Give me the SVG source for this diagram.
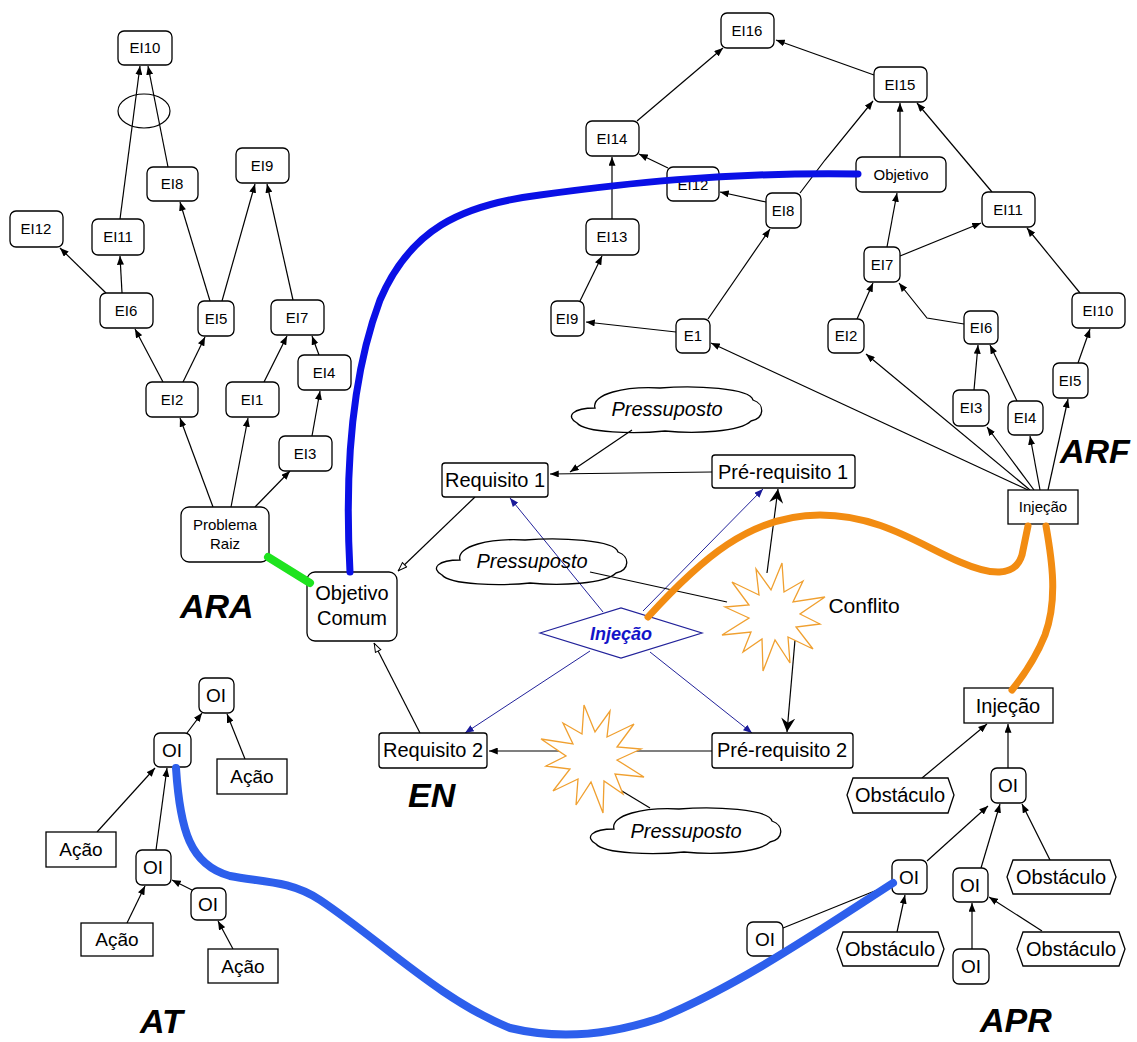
<svg xmlns="http://www.w3.org/2000/svg" xmlns:xlink="http://www.w3.org/1999/xlink" width="1137" height="1042" viewBox="0 0 1137 1042">
<style>
.box{fill:#fff;stroke:#000;stroke-width:1.3}
.hex{fill:#fff;stroke:#000;stroke-width:1.3}
.t{font-family:"Liberation Sans",Arial,sans-serif;text-anchor:middle;fill:#000}
.s15{font-size:15px}
.s19{font-size:19px}
.s20{font-size:20px}
.it{font-style:italic}
.lbl{font-family:"Liberation Sans",Arial,sans-serif;font-weight:bold;font-style:italic;font-size:34px;fill:#000}
.c{fill:none;stroke:#000;stroke-width:1.2}
.cb{fill:none;stroke:#22229a;stroke-width:1}
.cloud{fill:none;stroke:#000;stroke-width:1.3}
.star{fill:#fff;stroke:#f0a030;stroke-width:1.3}
.thick{fill:none;stroke-linecap:round;stroke-linejoin:round}
</style>
<defs>
<marker id="ah" viewBox="0 0 10 8" refX="10" refY="4" markerWidth="9" markerHeight="7" orient="auto" markerUnits="userSpaceOnUse"><path d="M0,0L10,4L0,8z" fill="#000"/></marker>
<marker id="ahb" viewBox="0 0 10 8" refX="10" refY="4" markerWidth="9" markerHeight="7" orient="auto" markerUnits="userSpaceOnUse"><path d="M0,0L10,4L0,8z" fill="#1a1a9a"/></marker>
<marker id="aho" viewBox="0 0 10 8" refX="10" refY="4" markerWidth="10" markerHeight="8" orient="auto" markerUnits="userSpaceOnUse"><path d="M1,1L9.5,4L1,7z" fill="#fff" stroke="#000" stroke-width="1"/></marker>
<marker id="ahbig" viewBox="0 0 12 12" refX="12" refY="6" markerWidth="14" markerHeight="14" orient="auto" markerUnits="userSpaceOnUse"><path d="M0,0L12,6L0,12L4,6z" fill="#000"/></marker>
<path id="cloudshape" d="M-70,-2 C-74,-16 -40,-24 -5,-22 C30,-25 85,-22 88,-10 C100,-6 100,8 86,11 C75,22 30,24 0,21 C-30,24 -80,23 -88,13 C-100,6 -92,-2 -70,-2 Z"/>
<polygon id="starshape" points="9,-53 11,-24 30,-35 20,-14 52,-19 27,-2 47,8 23,11 40,33 15,21 17,47 2,24 -10,55 -11,23 -30,36 -22,16 -51,19 -24,2 -48,-9 -24,-11 -41,-34 -14,-21 -17,-47 -2,-26"/>
</defs>
<rect width="1137" height="1042" fill="#fff"/>

<g id="connectors">
<!-- ARA -->
<path class="c" d="M213,507 L180,418" marker-end="url(#ah)"/>
<path class="c" d="M231,507 L248,418" marker-end="url(#ah)"/>
<path class="c" d="M255,507 L290,471" marker-end="url(#ah)"/>
<path class="c" d="M312,436 L320,391" marker-end="url(#ah)"/>
<path class="c" d="M319,355 L312,336" marker-end="url(#ah)"/>
<path class="c" d="M264,382 L287,336" marker-end="url(#ah)"/>
<path class="c" d="M163,382 L135,329" marker-end="url(#ah)"/>
<path class="c" d="M183,382 L205,337" marker-end="url(#ah)"/>
<path class="c" d="M106,293 L60,248" marker-end="url(#ah)"/>
<path class="c" d="M122,293 L120,256" marker-end="url(#ah)"/>
<path class="c" d="M120,219 L140,66" marker-end="url(#ah)"/>
<path class="c" d="M168,167 L148,66" marker-end="url(#ah)"/>
<path class="c" d="M210,301 L180,202" marker-end="url(#ah)"/>
<path class="c" d="M222,301 L255,184" marker-end="url(#ah)"/>
<path class="c" d="M293,300 L267,184" marker-end="url(#ah)"/>
<!-- ARF -->
<path class="c" d="M1028,490 L711,343" marker-end="url(#ah)"/>
<path class="c" d="M1030,490 L866,354" marker-end="url(#ah)"/>
<path class="c" d="M1034,490 L987,427" marker-end="url(#ah)"/>
<path class="c" d="M1040,490 L1030,436" marker-end="url(#ah)"/>
<path class="c" d="M1048,490 L1068,399" marker-end="url(#ah)"/>
<path class="c" d="M974,390 L978,345" marker-end="url(#ah)"/>
<path class="c" d="M1017,401 L990,345" marker-end="url(#ah)"/>
<path class="c" d="M964,324 L927,318 L899,283" marker-end="url(#ah)"/>
<path class="c" d="M857,319 L873,283" marker-end="url(#ah)"/>
<path class="c" d="M887,247 L897,193" marker-end="url(#ah)"/>
<path class="c" d="M900,256 L981,223" marker-end="url(#ah)"/>
<path class="c" d="M1078,363 L1090,329" marker-end="url(#ah)"/>
<path class="c" d="M1080,293 L1027,228" marker-end="url(#ah)"/>
<path class="c" d="M992,192 L917,103" marker-end="url(#ah)"/>
<path class="c" d="M900,157 L900,103" marker-end="url(#ah)"/>
<path class="c" d="M800,193 L825,160 L873,101" marker-end="url(#ah)"/>
<path class="c" d="M874,75 L776,40" marker-end="url(#ah)"/>
<path class="c" d="M637,121 L723,48" marker-end="url(#ah)"/>
<path class="c" d="M612,219 L612,157" marker-end="url(#ah)"/>
<path class="c" d="M580,301 L602,256" marker-end="url(#ah)"/>
<path class="c" d="M676,332 L586,322" marker-end="url(#ah)"/>
<path class="c" d="M708,319 L770,229" marker-end="url(#ah)"/>
<path class="c" d="M766,202 L720,192" marker-end="url(#ah)"/>
<path class="c" d="M668,168 L639,154" marker-end="url(#ah)"/>
<!-- EN -->
<path class="c" d="M632,430 L570,472" marker-end="url(#ah)"/>
<path class="c" d="M712,472 L550,474" marker-end="url(#ah)"/>
<path class="c" d="M475,497 L398,571" marker-end="url(#aho)"/>
<path class="c" d="M420,733 L374,643" marker-end="url(#aho)"/>
<path class="cb" d="M603,612 L510,498" marker-end="url(#ahb)"/>
<path class="cb" d="M643,611 L763,489" marker-end="url(#ahb)"/>
<path class="cb" d="M590,651 L465,733" marker-end="url(#ahb)"/>
<path class="cb" d="M650,652 L752,733" marker-end="url(#ahb)"/>
<path class="c" d="M590,572 L727,602"/>
<path class="c" d="M767,573 L778,489" marker-end="url(#ahbig)"/>
<path class="c" d="M795,640 L787,732" marker-end="url(#ahbig)"/>
<path class="c" d="M712,751 L489,751" marker-end="url(#ah)"/>
<path class="c" d="M650,808 L612,785"/>
<!-- AT -->
<path class="c" d="M187,733 L202,713" marker-end="url(#ah)"/>
<path class="c" d="M245,759 L227,714" marker-end="url(#ah)"/>
<path class="c" d="M97,832 L155,768" marker-end="url(#ah)"/>
<path class="c" d="M156,850 L167,768" marker-end="url(#ah)"/>
<path class="c" d="M127,923 L145,886" marker-end="url(#ah)"/>
<path class="c" d="M192,890 L172,880" marker-end="url(#ah)"/>
<path class="c" d="M233,949 L218,921" marker-end="url(#ah)"/>
<!-- APR -->
<path class="c" d="M922,778 L987,724" marker-end="url(#ah)"/>
<path class="c" d="M1008,768 L1008,724" marker-end="url(#ah)"/>
<path class="c" d="M927,861 L988,806" marker-end="url(#ah)"/>
<path class="c" d="M981,868 L1000,804" marker-end="url(#ah)"/>
<path class="c" d="M1050,860 L1022,804" marker-end="url(#ah)"/>
<path class="c" d="M783,928 L892,884"/>
<path class="c" d="M897,932 L905,895" marker-end="url(#ah)"/>
<path class="c" d="M972,949 L972,903" marker-end="url(#ah)"/>
<path class="c" d="M1042,931 L989,897" marker-end="url(#ah)"/>
</g>

<!-- ARA nodes -->
<g id="ara-ei10"><rect class="box" x="118" y="31" width="54" height="34" rx="6"/><text class="t s15" x="145" y="53">EI10</text></g>
<g id="ara-and"><ellipse cx="144" cy="111" rx="26" ry="17" fill="none" stroke="#000" stroke-width="1.2"/></g>
<g id="ara-ei8"><rect class="box" x="147" y="167" width="51" height="34" rx="6"/><text class="t s15" x="172" y="189">EI8</text></g>
<g id="ara-ei9"><rect class="box" x="236" y="148" width="53" height="35" rx="6"/><text class="t s15" x="262" y="171">EI9</text></g>
<g id="ara-ei12"><rect class="box" x="10" y="211" width="53" height="36" rx="6"/><text class="t s15" x="36" y="234">EI12</text></g>
<g id="ara-ei11"><rect class="box" x="92" y="219" width="52" height="36" rx="6"/><text class="t s15" x="118" y="242">EI11</text></g>
<g id="ara-ei6"><rect class="box" x="100" y="293" width="53" height="35" rx="6"/><text class="t s15" x="126" y="316">EI6</text></g>
<g id="ara-ei5"><rect class="box" x="198" y="301" width="36" height="35" rx="6"/><text class="t s15" x="216" y="324">EI5</text></g>
<g id="ara-ei7"><rect class="box" x="271" y="300" width="53" height="35" rx="6"/><text class="t s15" x="297" y="323">EI7</text></g>
<g id="ara-ei4"><rect class="box" x="298" y="355" width="53" height="35" rx="6"/><text class="t s15" x="324" y="378">EI4</text></g>
<g id="ara-ei2"><rect class="box" x="146" y="382" width="52" height="35" rx="6"/><text class="t s15" x="172" y="405">EI2</text></g>
<g id="ara-ei1"><rect class="box" x="226" y="382" width="53" height="35" rx="6"/><text class="t s15" x="252" y="405">EI1</text></g>
<g id="ara-ei3"><rect class="box" x="279" y="436" width="53" height="35" rx="6"/><text class="t s15" x="305" y="459">EI3</text></g>
<g id="problema-raiz"><rect class="box" x="181" y="507" width="88" height="55" rx="8"/><text class="t s15" x="225" y="530">Problema</text><text class="t s15" x="225" y="549">Raiz</text></g>
<g id="objetivo-comum"><rect class="box" x="307" y="572" width="90" height="69" rx="8"/><text class="t s20" x="352" y="600">Objetivo</text><text class="t s20" x="352" y="625">Comum</text></g>

<!-- ARF nodes -->
<g id="arf-ei16"><rect class="box" x="721" y="13" width="53" height="35" rx="6"/><text class="t s15" x="747" y="36">EI16</text></g>
<g id="arf-ei15"><rect class="box" x="874" y="67" width="53" height="35" rx="6"/><text class="t s15" x="900" y="90">EI15</text></g>
<g id="arf-ei14"><rect class="box" x="586" y="121" width="53" height="35" rx="6"/><text class="t s15" x="612" y="144">EI14</text></g>
<g id="arf-ei12"><rect class="box" x="667" y="167" width="52" height="34" rx="6"/><text class="t s15" x="693" y="190">EI12</text></g>
<g id="arf-objetivo"><rect class="box" x="856" y="157" width="90" height="35" rx="6"/><text class="t s15" x="901" y="180">Objetivo</text></g>
<g id="arf-ei8"><rect class="box" x="766" y="193" width="35" height="35" rx="6"/><text class="t s15" x="783" y="216">EI8</text></g>
<g id="arf-ei11"><rect class="box" x="982" y="192" width="53" height="35" rx="6"/><text class="t s15" x="1008" y="215">EI11</text></g>
<g id="arf-ei13"><rect class="box" x="586" y="219" width="53" height="36" rx="6"/><text class="t s15" x="612" y="242">EI13</text></g>
<g id="arf-ei7"><rect class="box" x="864" y="247" width="36" height="35" rx="6"/><text class="t s15" x="882" y="270">EI7</text></g>
<g id="arf-ei10"><rect class="box" x="1072" y="293" width="53" height="35" rx="6"/><text class="t s15" x="1098" y="316">EI10</text></g>
<g id="arf-ei9"><rect class="box" x="551" y="301" width="33" height="35" rx="6"/><text class="t s15" x="567" y="324">EI9</text></g>
<g id="arf-e1"><rect class="box" x="676" y="319" width="34" height="34" rx="6"/><text class="t s15" x="693" y="341">E1</text></g>
<g id="arf-ei2"><rect class="box" x="828" y="319" width="36" height="34" rx="6"/><text class="t s15" x="846" y="341">EI2</text></g>
<g id="arf-ei6"><rect class="box" x="964" y="311" width="34" height="33" rx="6"/><text class="t s15" x="981" y="333">EI6</text></g>
<g id="arf-ei5"><rect class="box" x="1053" y="363" width="35" height="35" rx="6"/><text class="t s15" x="1070" y="386">EI5</text></g>
<g id="arf-ei3"><rect class="box" x="953" y="390" width="36" height="36" rx="6"/><text class="t s15" x="971" y="413">EI3</text></g>
<g id="arf-ei4"><rect class="box" x="1008" y="401" width="35" height="34" rx="6"/><text class="t s15" x="1025" y="423">EI4</text></g>
<g id="arf-injecao"><rect class="box" x="1008" y="490" width="70" height="34"/><text class="t s15" x="1043" y="512">Injeção</text></g>

<!-- EN nodes -->
<g id="pressuposto-1"><use xlink:href="#cloudshape" class="cloud" transform="translate(665,410)"/><text class="t s20 it" x="667" y="416">Pressuposto</text></g>
<g id="pressuposto-2"><use xlink:href="#cloudshape" class="cloud" transform="translate(530,562)"/><text class="t s20 it" x="532" y="568">Pressuposto</text></g>
<g id="pressuposto-3"><use xlink:href="#cloudshape" class="cloud" transform="translate(684,831)"/><text class="t s20 it" x="686" y="838">Pressuposto</text></g>
<g id="requisito-1"><rect class="box" x="442" y="463" width="106" height="34" rx="3"/><text class="t s20" x="495" y="487">Requisito 1</text></g>
<g id="pre-requisito-1"><rect class="box" x="712" y="455" width="143" height="33" rx="3"/><text class="t s20" x="783" y="479">Pré-requisito 1</text></g>
<g id="requisito-2"><rect class="box" x="379" y="733" width="108" height="35" rx="3"/><text class="t s20" x="433" y="757">Requisito 2</text></g>
<g id="pre-requisito-2"><rect class="box" x="712" y="733" width="141" height="35" rx="3"/><text class="t s20" x="782" y="757">Pré-requisito 2</text></g>
<g id="injecao-en"><polygon points="540,633 621,608 702,633 621,658" fill="#fff" stroke="#22229a" stroke-width="1.2"/><text class="t" x="621" y="640" style="font-size:18px;font-weight:bold;font-style:italic;fill:#1414c8">Injeção</text></g>
<g id="conflito-1"><use xlink:href="#starshape" class="star" transform="translate(773,616)"/><text class="t s20" x="864" y="613" style="font-size:21px">Conflito</text></g>
<g id="conflito-2"><use xlink:href="#starshape" class="star" transform="translate(593,758) scale(-1,1)"/></g>

<!-- AT nodes -->
<g id="at-oi1"><rect class="box" x="199" y="678" width="35" height="35" rx="6"/><text class="t s19" x="216" y="702">OI</text></g>
<g id="at-oi2"><rect class="box" x="154" y="733" width="37" height="34" rx="6"/><text class="t s19" x="172" y="757">OI</text></g>
<g id="at-acao1"><rect class="box" x="217" y="759" width="70" height="35"/><text class="t s19" x="252" y="783">Ação</text></g>
<g id="at-acao2"><rect class="box" x="46" y="832" width="70" height="35"/><text class="t s19" x="81" y="856">Ação</text></g>
<g id="at-oi3"><rect class="box" x="136" y="850" width="35" height="35" rx="6"/><text class="t s19" x="153" y="874">OI</text></g>
<g id="at-oi4"><rect class="box" x="191" y="888" width="35" height="32" rx="6"/><text class="t s19" x="208" y="911">OI</text></g>
<g id="at-acao3"><rect class="box" x="81" y="923" width="72" height="33"/><text class="t s19" x="117" y="946">Ação</text></g>
<g id="at-acao4"><rect class="box" x="208" y="949" width="70" height="34"/><text class="t s19" x="243" y="973">Ação</text></g>

<!-- APR nodes -->
<g id="apr-injecao"><rect class="box" x="964" y="688" width="89" height="35"/><text class="t s20" x="1008" y="713">Injeção</text></g>
<g id="apr-obst1"><polygon class="hex" points="853,778 948,778 954,795 948,813 853,813 847,795"/><text class="t s20" x="900" y="802">Obstáculo</text></g>
<g id="apr-oi1"><rect class="box" x="991" y="768" width="35" height="35" rx="6"/><text class="t s19" x="1008" y="792">OI</text></g>
<g id="apr-oi2"><rect class="box" x="892" y="860" width="35" height="34" rx="6"/><text class="t s19" x="909" y="884">OI</text></g>
<g id="apr-oi3"><rect class="box" x="953" y="868" width="35" height="34" rx="6"/><text class="t s19" x="970" y="892">OI</text></g>
<g id="apr-obst2"><polygon class="hex" points="1013,860 1110,860 1116,877 1110,894 1013,894 1007,877"/><text class="t s20" x="1061" y="884">Obstáculo</text></g>
<g id="apr-oi4"><rect class="box" x="747" y="922" width="36" height="34" rx="6"/><text class="t s19" x="765" y="946">OI</text></g>
<g id="apr-obst3"><polygon class="hex" points="843,932 938,932 944,949 938,966 843,966 837,949"/><text class="t s20" x="890" y="956">Obstáculo</text></g>
<g id="apr-oi5"><rect class="box" x="953" y="949" width="36" height="35" rx="6"/><text class="t s19" x="971" y="973">OI</text></g>
<g id="apr-obst4"><polygon class="hex" points="1023,932 1119,932 1125,949 1119,966 1023,966 1017,949"/><text class="t s20" x="1071" y="956">Obstáculo</text></g>

<!-- Area labels -->
<g id="labels">
<text class="lbl" x="180" y="618">ARA</text>
<text class="lbl" x="1060" y="463">ARF</text>
<text class="lbl" x="408" y="807">EN</text>
<text class="lbl" x="140" y="1033">AT</text>
<text class="lbl" x="980" y="1032">APR</text>
</g>

<g id="cross-links">
<path class="thick" d="M268,557 L310,583" stroke="#1ee31e" stroke-width="8"/>
<path class="thick" d="M350,572 C345,480 350,380 380,300 C410,230 460,205 540,195 C620,184 720,172 858,174" stroke="#0a10e6" stroke-width="7"/>
<path class="thick" d="M176,768 C180,830 190,865 230,876 C260,882 290,880 320,900 C380,940 440,1000 510,1028 C560,1040 610,1035 660,1018 C740,985 820,930 893,883" stroke="#2d5fec" stroke-width="8"/>
<path class="thick" d="M648,617 C700,560 750,515 820,515 C880,515 920,545 960,562 C990,575 1015,578 1022,555 L1028,526" stroke="#f28c12" stroke-width="7"/>
<path class="thick" d="M1046,526 C1052,560 1058,600 1045,635 C1035,660 1020,680 1012,690" stroke="#f28c12" stroke-width="7"/>
</g>
</svg>
